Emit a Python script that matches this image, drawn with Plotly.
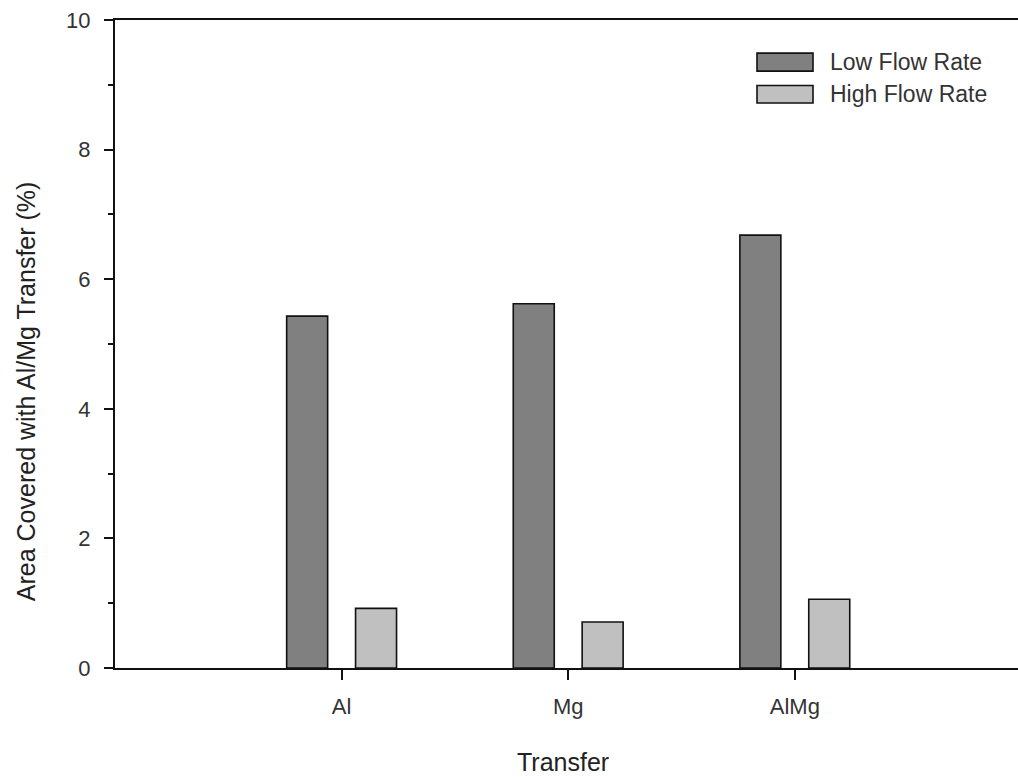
import plotly.graph_objects as go

# Data
transfer_types = ["Al", "Mg", "AlMg"]
low_flow = [5.43, 5.62, 6.68]
high_flow = [0.92, 0.71, 1.06]
series_names = ["Low Flow Rate", "High Flow Rate"]
series_colors = ["#808080", "#c0c0c0"]
y_ticks = [0, 2, 4, 6, 8, 10]

W, H = 1018, 777
L, R, T, B = 115, 0, 19.5, 109
plot_w = W - L - R
plot_h = H - T - B

FONT = "Liberation Sans, Arial, sans-serif"


def px_x(px):
    return (px - L) / plot_w


def px_y(py):
    return (H - B - py) / plot_h


fig = go.Figure()
for name, vals, col in zip(series_names, [low_flow, high_flow], series_colors):
    fig.add_trace(go.Bar(
        x=transfer_types, y=vals, name=name,
        marker=dict(color=col, line=dict(color="#111111", width=1.6)),
        showlegend=False,
    ))

# Hand-drawn legend with wide swatches
legend_rows = [(52.7, 70.7), (85.0, 102.5)]
shapes = []
annotations = []
for (top, bot), name, col in zip(legend_rows, series_names, series_colors):
    shapes.append(dict(
        type="rect", xref="paper", yref="paper",
        x0=px_x(757), x1=px_x(813), y0=px_y(bot), y1=px_y(top),
        fillcolor=col, line=dict(color="#111111", width=1.6),
    ))
    annotations.append(dict(
        xref="paper", yref="paper", x=px_x(828), y=px_y((top + bot) / 2),
        text=name, showarrow=False, xanchor="left", yanchor="middle",
        font=dict(family=FONT, size=23, color="#333333"),
    ))

# Axis titles
annotations.append(dict(
    xref="paper", yref="paper", x=px_x(563), y=px_y(762),
    text="Transfer", showarrow=False, xanchor="center", yanchor="middle",
    font=dict(family=FONT, size=25, color="#222222"),
))
annotations.append(dict(
    xref="paper", yref="paper", x=px_x(26), y=px_y(391),
    text="Area Covered with Al/Mg Transfer (%)", showarrow=False,
    textangle=-90, xanchor="center", yanchor="middle",
    font=dict(family=FONT, size=25, color="#222222"),
))

fig.update_layout(
    width=W, height=H,
    margin=dict(l=L, r=R, t=T, b=B, pad=0),
    paper_bgcolor="white", plot_bgcolor="white",
    barmode="group", bargap=0.392, bargroupgap=0.405,
    shapes=shapes, annotations=annotations,
    font=dict(family=FONT),
)

fig.update_xaxes(
    type="category", range=[-1, 2.985],
    showline=True, linecolor="#111111", linewidth=2, mirror=True,
    ticks="outside", ticklen=10, tickwidth=2, tickcolor="#111111",
    tickfont=dict(family=FONT, size=22, color="#333333"),
    ticklabelstandoff=8,
    showgrid=False, zeroline=False,
)
fig.update_yaxes(
    range=[0, 10], tickvals=y_ticks,
    showline=True, linecolor="#111111", linewidth=2,
    ticks="outside", ticklen=9, tickwidth=2, tickcolor="#111111",
    minor=dict(dtick=1, ticks="outside", ticklen=5, tickwidth=2, tickcolor="#111111", showgrid=False),
    tickfont=dict(family=FONT, size=22, color="#333333"),
    ticklabelstandoff=9,
    showgrid=False, zeroline=False,
)

fig.write_html("out.html")
